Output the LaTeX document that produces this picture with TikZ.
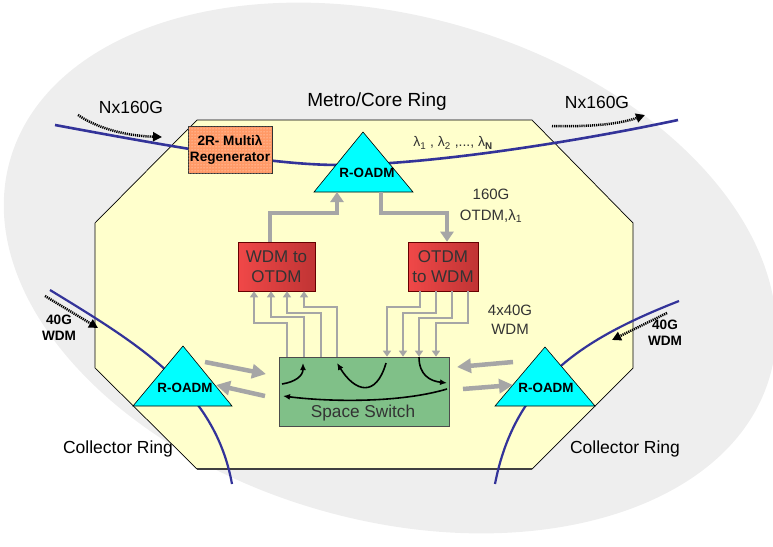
\documentclass[tikz,border=0pt]{standalone}
\usepackage{fontspec}
\setmainfont{Liberation Sans}
\usetikzlibrary{arrows.meta,patterns,calc}
\definecolor{bggray}{HTML}{EEEEEE}
\definecolor{octfill}{HTML}{FFFFCC}
\definecolor{ringblue}{HTML}{333399}
\definecolor{oadm}{HTML}{00FFFF}
\definecolor{swgreen}{HTML}{80C088}
\definecolor{arrgray}{HTML}{A6A6A6}
\definecolor{regen}{HTML}{FF9966}
\definecolor{redL}{HTML}{F04848}
\definecolor{redR}{HTML}{C03434}
\definecolor{txtgray}{HTML}{333333}
\begin{document}
\begin{tikzpicture}[x=1pt,y=-1pt,
  ring/.style={draw=ringblue,line width=2.6pt},
  tri/.style={fill=oadm,draw=black,line width=0.6pt},
  oadmlbl/.style={font=\bfseries\fontsize{13.4}{15}\selectfont,inner sep=0pt},
  lbl/.style={font=\fontsize{17.5}{20}\selectfont,inner sep=0pt},
  smalllbl/.style={font=\fontsize{15}{18.5}\selectfont,inner sep=0pt,align=center,text=txtgray},
  boldlbl/.style={font=\bfseries\fontsize{13.6}{16}\selectfont,inner sep=0pt,align=center},
  redbox/.style={left color=redL,right color=redR,draw=red!40!black,line width=0.6pt,
    font=\fontsize{17}{20}\selectfont,align=center,text=txtgray},
  gthick/.style={draw=arrgray,line width=4pt,-{Triangle[length=10pt,width=13pt]}},
  gside/.style={draw=arrgray,line width=4.5pt,-{Triangle[length=14pt,width=14pt]}},
  gthin/.style={draw=arrgray,line width=2pt,-{Triangle[length=6pt,width=8pt]}},
  barrow/.style={draw=black,line width=1.6pt,-{Latex[length=7pt,width=6pt]}},
  dotarrow/.style={draw=black,line width=2.5pt,dash pattern=on 1.2pt off 0.9pt,
    -{Triangle[length=9pt,width=9pt]}}]
\useasboundingbox (0,0) rectangle (773,546);
% background ellipse
\fill[bggray,rotate around={-15.85:(390,268)}] (390,268) ellipse [x radius=395, y radius=252];
% octagon
\draw[fill=octfill,draw=black,line width=0.7pt]
 (197,120) -- (532,120) -- (633,223) -- (633,368) -- (532,469) -- (197,469)
 -- (95,368) -- (95,223) -- cycle;
\draw[draw=black!75,line width=2pt] (197,469) -- (532,469);
% rings
\draw[ring] (55,125) .. controls (200,152) and (280,165) .. (340,165)
 .. controls (420,165) and (560,145) .. (678,120);
\draw[ring,line width=2.2pt] (50,290) .. controls (140,345) and (215,390) .. (232,484);
\draw[ring,line width=2.2pt] (679,301) .. controls (585,338) and (515,380) .. (495,484);
% triangles
\draw[tri] (363,132) -- (413,192) -- (314,192) -- cycle;
\draw[tri] (183,346) -- (232,406) -- (133,406) -- cycle;
\draw[tri] (545,347) -- (595,406) -- (495,406) -- cycle;
\node[oadmlbl] (tT) at (367,173) {R-OADM};
\node[oadmlbl] (tL) at (185,388) {R-OADM};
\node[oadmlbl] (tR) at (546,388) {R-OADM};
\coordinate (tTin) at (337,192);
\coordinate (tTout) at (381,192);
% boxes
\node[draw=black!80,line width=0.7pt,fill=regen,minimum width=84pt,minimum height=47pt,
  postaction={pattern=dots,pattern color=white!85!regen},
  font=\bfseries\fontsize{13.6}{16}\selectfont,align=center,inner sep=0pt]
  (regen) at (230,149.5) {2R- Multiλ\\Regenerator};
\node[redbox,minimum width=77pt,minimum height=49pt,inner sep=0pt] (wto) at (276.5,266.5) {WDM to\\OTDM};
\node[redbox,minimum width=70pt,minimum height=49pt,inner sep=0pt] (otw) at (443,266.5) {OTDM\\to WDM};
\node[fill=swgreen,draw=black!70,line width=0.7pt,minimum width=170pt,minimum height=69pt,inner sep=0pt] (sw) at (364,391.5) {};
\node[font=\fontsize{17.2}{20}\selectfont,text=txtgray,inner sep=0pt] (swl) at (363,413) {Space Switch};
% thick gray arrows to/from top R-OADM
\draw[gthick] ([xshift=-6.5]wto.north) |- ($(tTin)+(0,21)$) -- (tTin);
\draw[gthick] (tTout) -- ($(tTout)+(0,21)$) -| ([xshift=4]otw.north);
% thin gray arrows
\foreach \s/\e/\j in {-77/-22.5/34, -60/-5.5/40, -43/10.5/44, -27/27.5/50}
  \draw[gthin] ([xshift=\s]sw.north) -- ++(0,-\j) -| ([xshift=\e]wto.south);
\foreach \s/\e/\j in {-23/23/16, -7/39/22, 9/55/27, 25/72/32}
  \draw[gthin] ([xshift=\s]otw.south) -- ++(0,\j) -| ([xshift=\e]sw.north);
% side arrows
\coordinate (aL1s) at (205,362); \coordinate (aL1e) at (266,374);
\coordinate (aL2s) at (265,396); \coordinate (aL2e) at (216,385);
\coordinate (aR1s) at (513,362); \coordinate (aR1e) at (457,367);
\coordinate (aR2s) at (463,389); \coordinate (aR2e) at (513,385);
\draw[gside] (aL1s) -- (aL1e);
\draw[gside] (aL2s) -- (aL2e);
\draw[gside] (aR1s) -- (aR1e);
\draw[gside] (aR2s) -- (aR2e);
% switching arrows inside
\draw[barrow] (282,384) .. controls (295,382) and (303,376) .. (303,363);
\draw[barrow] (386,363) .. controls (376,398) and (355,392) .. (337,363);
\draw[barrow] (419,357) .. controls (419,375) and (430,381) .. (447,383);
\draw[barrow] (447,389) .. controls (400,403) and (330,402) .. (283,396);
% dotted arrows
\draw[dotarrow] (78,115) .. controls (100,130) and (130,136) .. (162,137);
\draw[dotarrow] (552,126) .. controls (590,127) and (620,124) .. (645,115);
\draw[dotarrow] (45,296) -- (98,328);
\draw[dotarrow] (667,313) -- (612,340);
% labels
\node[lbl,font=\fontsize{19}{22}\selectfont] (metro) at (377,102) {Metro/Core Ring};
\node[lbl] (nxl) at (131,107) {Nx160G};
\node[lbl] (nxr) at (597,102) {Nx160G};
\node[font=\fontsize{14}{16}\selectfont,inner sep=0pt,text=txtgray] (lam) at (453,143)
  {λ\textsubscript{1} , λ\textsubscript{2} ,..., λ\textsubscript{\bfseries N}};
\node[smalllbl,font=\fontsize{15}{21}\selectfont] (otdm) at (491,206) {160G\\OTDM,λ\textsubscript{1}};
\node[smalllbl] (wdm4) at (510,320) {4x40G\\WDM};
\node[boldlbl] (gl) at (59,328) {40G\\WDM};
\node[boldlbl] (gr) at (665,333) {40G\\WDM};
\node[lbl] (crl) at (118,449) {Collector Ring};
\node[lbl] (crr) at (625,449) {Collector Ring};
\end{tikzpicture}
\end{document}
